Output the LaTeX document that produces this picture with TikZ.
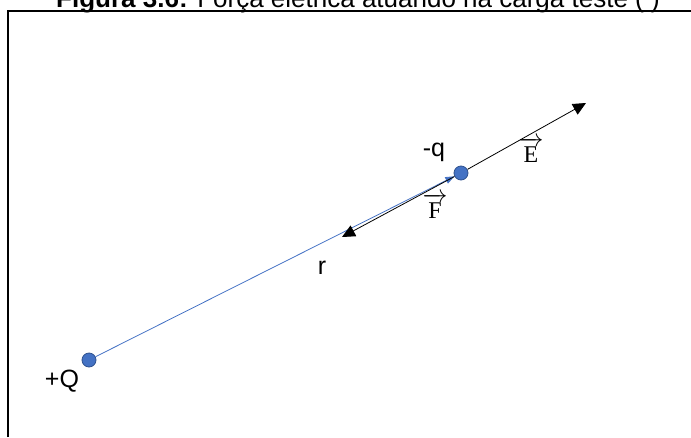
\documentclass[tikz,border=0pt]{standalone}
\usepackage{amsmath, amssymb}
\usepackage{fontspec}
\setmainfont{Liberation Sans}
\newfontfamily\vecfont{Liberation Serif}
\usetikzlibrary{arrows.meta}
\usepackage{xcolor}
\definecolor{chargeblue}{HTML}{4472C4}
\definecolor{chargeedge}{HTML}{2F528F}

\begin{document}
\begin{tikzpicture}[
    x=1pt, y=-1pt,
    charge/.style={circle, fill=chargeblue, draw=chargeedge, line width=0.8pt, inner sep=0pt, minimum size=14pt},
    lbl/.style={font=\fontsize{25}{29}\selectfont, inner sep=0pt},
    vlbl/.style={font=\fontsize{24}{28}\selectfont, inner sep=0pt},
    field/.style={draw=black, line width=0.8pt, -{Triangle[length=13pt, width=12pt]}},
    radius/.style={draw=chargeblue, line width=0.8pt, -{Triangle[length=9pt, width=7pt]}}
]
\useasboundingbox (0,0) rectangle (691,437);
\clip (0,0) rectangle (691,437);

\node[font=\fontsize{26}{30}\selectfont, anchor=base] (title) at (358,7) {\textbf{Figura 3.6:} Força elétrica atuando na carga teste ( )};
\draw[line width=1.2pt] (8,437) -- (8,11) -- (691,11);

\node[charge] (Q) at (89,360) {};
\node[charge] (q) at (461,173) {};
\coordinate (Etip) at (586,103);
\coordinate (Ftip) at (342,237);

\draw[radius] (Q) -- (q);
\draw[field] (q) -- (Etip);
\draw[field] (q) -- (Ftip);

\node[lbl] (Qlabel) at (62,381) {+Q};
\node[lbl] (qlabel) at (434,152) {-q};
\node[lbl] (rlabel) at (322,268) {r};
\node[vlbl] (Elabel) at (531,150) {$\overrightarrow{\text{\vecfont E}}$};
\node[vlbl] (Flabel) at (435,206) {$\overrightarrow{\text{\vecfont F}}$};

\end{tikzpicture}
\end{document}
